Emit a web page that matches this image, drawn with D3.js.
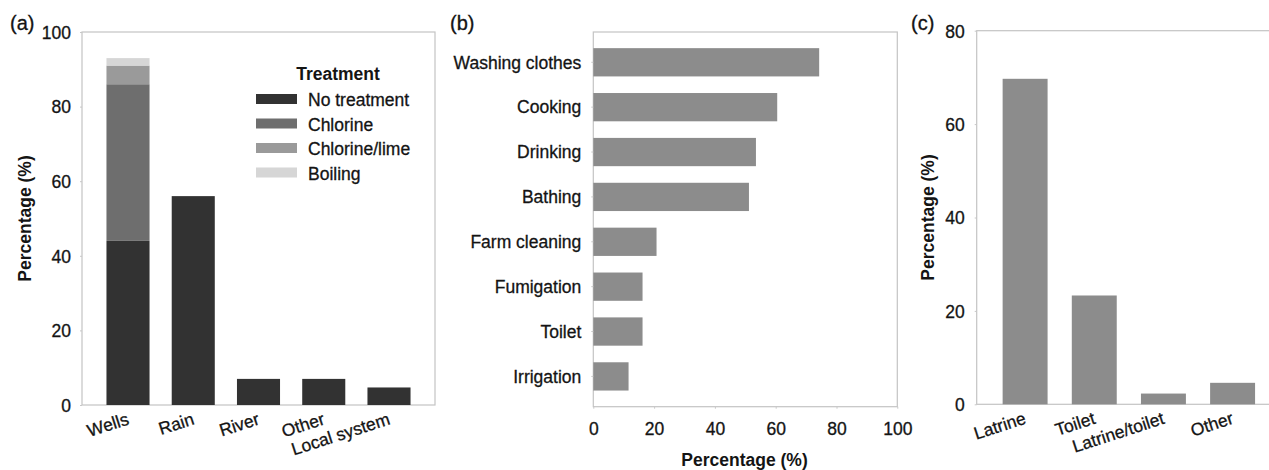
<!DOCTYPE html>
<html>
<head>
<meta charset="utf-8">
<script src="https://cdn.jsdelivr.net/npm/d3@7"></script>
<style>
    body { margin: 0; background: #ffffff; }
    svg { display: block; }
    .tick line { stroke: #c8c8c8; }
</style>
</head>
<body>
<script>
// (a) water source, stacked by treatment
var sourceCategories = ["Wells", "Rain", "River", "Other", "Local system"];
var treatmentKeys = ["No treatment", "Chlorine", "Chlorine/lime", "Boiling"];
var noTreatment = [44, 56, 7, 7, 4.7];
var chlorine = [42, 0, 0, 0, 0];
var chlorineLime = [5, 0, 0, 0, 0];
var boiling = [2, 0, 0, 0, 0];
var ticksA = [0, 20, 40, 60, 80, 100];

// (b) water use
var useCategories = ["Washing clothes", "Cooking", "Drinking", "Bathing",
    "Farm cleaning", "Fumigation", "Toilet", "Irrigation"];
var useValues = [74.3, 60.5, 53.5, 51.2, 20.8, 16.2, 16.2, 11.6];
var ticksB = [0, 20, 40, 60, 80, 100];

// (c) sanitation
var toiletCategories = ["Latrine", "Toilet", "Latrine/toilet", "Other"];
var toiletValues = [69.7, 23.3, 2.3, 4.6];
var ticksC = [0, 20, 40, 60, 80];

/**
 * Default parameter
 */
var W = 1269;
var H = 470;
var fontFamily = "'Liberation Sans', Arial, sans-serif";
var fontSize = "17.5px";
var fontColor = "#141414";
var textStroke = 0.3; // scanned look, a bit heavier than plain text
var frameColor = "#c4c4c4";
var barGrey = "#8c8c8c";
var treatmentColor = ["#323232", "#6e6e6e", "#9a9a9a", "#d6d6d6"];
var labelAngle = -18;

var svg = d3.select("body").append("svg")
    .attr("width", W)
    .attr("height", H)
    .style("background-color", "#ffffff");

function plainText(sel) {
    return sel.attr("font-family", fontFamily)
        .attr("font-size", fontSize)
        .attr("fill", fontColor)
        .attr("stroke", fontColor)
        .attr("stroke-width", textStroke);
}

function panelLabel(x, y, s) {
    svg.append("text")
        .attr("x", x).attr("y", y)
        .call(plainText)
        .attr("font-size", "20px")
        .text(s);
}

function frame(x0, y0, x1, y1) {
    svg.append("rect")
        .attr("x", x0).attr("y", y0)
        .attr("width", x1 - x0).attr("height", y1 - y0)
        .attr("fill", "none")
        .attr("stroke", frameColor)
        .attr("stroke-width", 1.2);
}

function styleAxis(g) {
    g.select(".domain").remove();
    g.selectAll("text").call(plainText);
}

function boldTitle(sel) {
    return sel.attr("text-anchor", "middle")
        .attr("font-family", fontFamily)
        .attr("font-size", fontSize)
        .attr("font-weight", "bold")
        .attr("fill", fontColor);
}

function yTitle(x, y) {
    svg.append("text")
        .attr("transform", "translate(" + x + "," + y + ") rotate(-90)")
        .call(boldTitle)
        .text("Percentage (%)");
}

function slantedLabels(xScale, names, y0) {
    svg.append("g").selectAll("text")
        .data(names)
        .enter()
        .append("text")
        .attr("transform", function (d) {
            return "translate(" + (xScale(d) + xScale.bandwidth() / 2 + 2) + "," + (y0 + 19) + ") rotate(" + labelAngle + ")";
        })
        .attr("text-anchor", "end")
        .call(plainText)
        .text(function (d) { return d; });
}

/**
 * Panel (a)
 */
var xA = d3.scaleBand().domain(sourceCategories).range([82, 435])
    .paddingInner(0.34).paddingOuter(0.375);
var yA = d3.scaleLinear().domain([0, 100]).range([405, 32]);

frame(82, 32, 435, 405);

var seriesA = [noTreatment, chlorine, chlorineLime, boiling];
var tableA = sourceCategories.map(function (c, i) {
    var row = { source: c };
    treatmentKeys.forEach(function (k, j) { row[k] = seriesA[j][i]; });
    return row;
});
var stackA = d3.stack().keys(treatmentKeys)(tableA);

svg.append("g").selectAll("g")
    .data(stackA)
    .enter()
    .append("g")
    .attr("fill", function (d, i) { return treatmentColor[i]; })
    .selectAll("rect")
    .data(function (d) { return d.filter(function (p) { return p[1] > p[0]; }); })
    .enter()
    .append("rect")
    .attr("x", function (d) { return xA(d.data.source); })
    .attr("y", function (d) { return yA(d[1]); })
    .attr("width", xA.bandwidth())
    .attr("height", function (d) { return yA(d[0]) - yA(d[1]); });

svg.append("g")
    .attr("transform", "translate(82,0)")
    .call(d3.axisLeft(yA).tickValues(ticksA).tickSize(2).tickPadding(9))
    .call(styleAxis)
    .selectAll("text").attr("dy", "0.36em");

slantedLabels(xA, sourceCategories, 405);
yTitle(31, 218.5);
panelLabel(10, 30, "(a)");

// legend
var legend = svg.append("g").attr("transform", "translate(256,0)");
legend.append("text")
    .attr("x", 82).attr("y", 80)
    .call(boldTitle)
    .text("Treatment");
var rows = legend.selectAll("g.row")
    .data(treatmentKeys)
    .enter()
    .append("g")
    .attr("class", "row")
    .attr("transform", function (d, i) { return "translate(0," + (106 + i * 24.5) + ")"; });
rows.append("rect")
    .attr("x", 0).attr("y", -12)
    .attr("width", 41).attr("height", 10)
    .attr("fill", function (d, i) { return treatmentColor[i]; });
rows.append("text")
    .attr("x", 52).attr("y", 0)
    .call(plainText)
    .text(function (d) { return d; });

/**
 * Panel (b)
 */
var xB = d3.scaleLinear().domain([0, 100]).range([593.3, 897.3]);
var yB = d3.scaleBand().domain(useCategories).range([32, 406.7])
    .paddingInner(0.37).paddingOuter(0.36);

frame(593.3, 32, 897.3, 406.7);

svg.append("g").selectAll("rect")
    .data(useCategories)
    .enter()
    .append("rect")
    .attr("x", xB(0))
    .attr("y", function (d) { return yB(d); })
    .attr("width", function (d, i) { return xB(useValues[i]) - xB(0); })
    .attr("height", yB.bandwidth())
    .attr("fill", barGrey);

svg.append("g")
    .attr("transform", "translate(593.3,0)")
    .call(d3.axisLeft(yB).tickSize(2).tickPadding(10))
    .call(styleAxis)
    .selectAll("text").attr("dy", "0.36em");

svg.append("g")
    .attr("transform", "translate(0,406.7)")
    .call(d3.axisBottom(xB).tickValues(ticksB).tickSize(2).tickPadding(14))
    .call(styleAxis);

svg.append("text")
    .attr("x", 744.5).attr("y", 466)
    .call(boldTitle)
    .text("Percentage (%)");

panelLabel(450, 30, "(b)");

/**
 * Panel (c)
 */
var xC = d3.scaleBand().domain(toiletCategories).range([976.7, 1281])
    .paddingInner(0.35).paddingOuter(0.375);
var yC = d3.scaleLinear().domain([0, 80]).range([404.3, 30.7]);

frame(976.7, 30.7, 1281, 404.3);

svg.append("g").selectAll("rect")
    .data(toiletCategories)
    .enter()
    .append("rect")
    .attr("x", function (d) { return xC(d); })
    .attr("y", function (d, i) { return yC(toiletValues[i]); })
    .attr("width", xC.bandwidth())
    .attr("height", function (d, i) { return yC(0) - yC(toiletValues[i]); })
    .attr("fill", barGrey);

svg.append("g")
    .attr("transform", "translate(976.7,0)")
    .call(d3.axisLeft(yC).tickValues(ticksC).tickSize(2).tickPadding(10))
    .call(styleAxis)
    .selectAll("text").attr("dy", "0.36em");

slantedLabels(xC, toiletCategories, 404.3);
yTitle(934, 217.5);
panelLabel(911, 30, "(c)");
</script>
</body>
</html>
